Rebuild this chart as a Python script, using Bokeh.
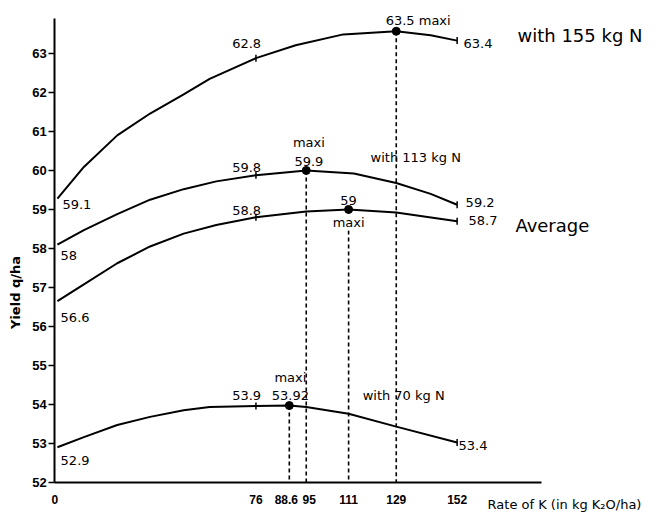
import numpy as np
from bokeh.plotting import figure
from bokeh.models import FixedTicker, Label, Range1d
from bokeh.embed import file_html
from bokeh.resources import INLINE

# ---- data ----
n155_x = [1, 11, 23.6, 36, 48.7, 58.5, 76, 91, 109, 129, 142, 152]
n155_y = [59.28, 60.09, 60.9, 61.46, 61.95, 62.35, 62.88, 63.21, 63.49, 63.57, 63.47, 63.33]

n113_x = [1, 11, 23.6, 36, 48.7, 61, 76, 95, 113, 129, 142, 152]
n113_y = [58.1, 58.47, 58.88, 59.25, 59.52, 59.72, 59.88, 60.0, 59.92, 59.68, 59.4, 59.12]

avg_x = [1, 11, 23.6, 36, 48.7, 61, 76, 95, 111, 129, 152]
avg_y = [56.65, 57.08, 57.62, 58.05, 58.38, 58.6, 58.8, 58.95, 59.0, 58.92, 58.7]

n70_x = [1, 11, 23.6, 36, 48.7, 58.5, 76, 88.6, 95, 111, 129, 152]
n70_y = [52.9, 53.16, 53.47, 53.68, 53.85, 53.93, 53.96, 53.97, 53.93, 53.76, 53.43, 53.02]

max_x = [129, 95, 111, 88.6]
max_y = [63.57, 60.0, 59.0, 53.97]

x_ticks = [0, 76, 88.6, 95, 111, 129, 152]
x_tick_labels = ["0", "76", "88.6\u2002", "\u200295", "111", "129", "152"]
y_ticks = [52, 53, 54, 55, 56, 57, 58, 59, 60, 61, 62, 63]

FONT = "DejaVu Sans"
TICKFONT = "Liberation Sans"

p = figure(width=670, height=515, x_range=Range1d(-20.5, 232.6), y_range=Range1d(51.15, 64),
           output_backend="svg", toolbar_location=None,
           min_border_left=0, min_border_right=0, min_border_top=14, min_border_bottom=0)
p.grid.visible = False
p.outline_line_color = None
p.background_fill_color = "white"
p.border_fill_color = "white"

xa = p.xaxis[0]
xa.fixed_location = 52
xa.ticker = FixedTicker(ticks=x_ticks)
xa.major_label_overrides = {t: l for t, l in zip(x_ticks, x_tick_labels)}
xa.bounds = (0, 184)
xa.axis_line_width = 2
xa.axis_line_color = "black"
xa.major_tick_in = 0
xa.major_tick_out = 0
xa.minor_tick_line_color = None
xa.major_label_standoff = 11
xa.major_label_text_font = TICKFONT
xa.major_label_text_font_size = "12px"
xa.major_label_text_font_style = "bold"
xa.major_label_text_color = "black"

ya = p.yaxis[0]
ya.fixed_location = 0
ya.ticker = FixedTicker(ticks=y_ticks)
ya.bounds = (52, 63.9)
ya.axis_line_width = 2
ya.axis_line_color = "black"
ya.major_tick_in = 0
ya.major_tick_out = 6
ya.major_tick_line_width = 1.5
ya.minor_tick_line_color = None
ya.major_label_standoff = 2
ya.major_label_text_font = TICKFONT
ya.major_label_text_font_size = "13px"
ya.major_label_text_font_style = "bold"
ya.major_label_text_color = "black"

# dashed verticals from maxima
p.segment(x0=max_x, y0=max_y, x1=max_x, y1=[52] * len(max_x),
          line_color="black", line_width=1.6, line_dash="4 3")

for xs, ys in [(n155_x, n155_y), (n113_x, n113_y), (avg_x, avg_y), (n70_x, n70_y)]:
    p.line(xs, ys, line_color="black", line_width=2)

# small tick marks at 76 and 152 on each curve
tx, ty = [], []
for xs, ys in [(n155_x, n155_y), (n113_x, n113_y), (avg_x, avg_y), (n70_x, n70_y)]:
    for v in (76, 152):
        tx.append(v)
        ty.append(ys[xs.index(v)])
p.scatter(tx, ty, marker="dash", angle=np.pi / 2, size=7, line_color="black", line_width=1.5)

p.scatter(max_x, max_y, size=8, color="black")


def lab(text, x, y, size="13px", align="left", bg=None, style="normal", angle=0):
    kw = {}
    if bg:
        kw["background_fill_color"] = bg
    p.add_layout(Label(text=text, x=x, y=y, text_font=FONT, text_font_size=size,
                       text_align=align, text_baseline="middle", angle=angle,
                       text_color="black", text_font_style=style, **kw))


lab("59.1", 2.9, 59.12)
lab("62.8", 67, 63.26)
lab("63.5 maxi", 125, 63.85)
lab("63.4", 154.4, 63.26)
lab("with 155 kg N", 174.8, 63.47, size="18px")

lab("58", 2.2, 57.82)
lab("59.8", 67, 60.08)
lab("maxi", 96, 60.72, align="center")
lab("59.9", 96, 60.22, align="center")
lab("with 113 kg N", 119.3, 60.34)
lab("59.2", 155.2, 59.18)

lab("56.6", 2.2, 56.22)
lab("58.8", 67, 58.97)
lab("59", 111, 59.24, align="center")
lab("maxi", 111, 58.66, align="center", bg="white")
lab("58.7", 156.3, 58.71)
lab("Average", 174, 58.59, size="18px")

lab("52.9", 2.2, 52.56)
lab("53.9", 67, 54.23)
lab("maxi", 89, 54.69, align="center")
lab("53.92", 89, 54.23, align="center")
lab("with 70 kg N", 116.3, 54.23)
lab("53.4", 152.5, 52.94)

lab("Rate of K (in kg K\u2082O/ha)", 163.5, 51.43, size="13px")
lab("Yield q/ha", -14.8, 56.87, size="13px", style="bold", align="center", angle=np.pi / 2)

open("out.html", "w").write(file_html(p, INLINE))
